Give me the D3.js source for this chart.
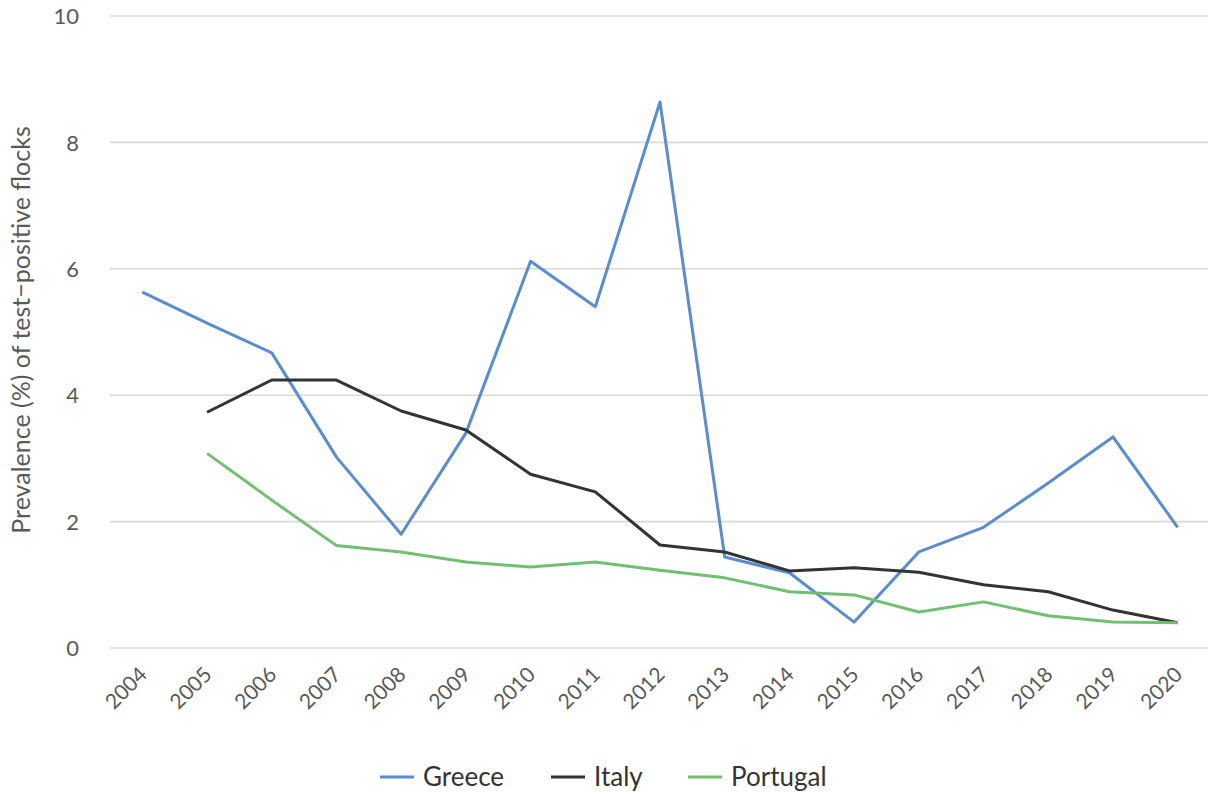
<!DOCTYPE html>
<html>
<head>
<meta charset="utf-8">
<script src="https://cdn.jsdelivr.net/npm/d3@7"></script>
<style>
  html, body { margin: 0; padding: 0; background: #fff; }
  svg { display: block; font-family: Lato, "Open Sans", sans-serif; }
</style>
</head>
<body>
<svg id="chart" width="1208" height="792"></svg>
<script>
const years = ["2004","2005","2006","2007","2008","2009","2010","2011","2012","2013","2014","2015","2016","2017","2018","2019","2020"];
const greece =   [5.63, 5.14, 4.67, 3.02, 1.80, 3.40, 6.12, 5.40, 8.64, 1.44, 1.19, 0.41, 1.52, 1.91, 2.61, 3.34, 1.91];
const italy =    [null, 3.73, 4.24, 4.24, 3.75, 3.45, 2.75, 2.47, 1.63, 1.52, 1.22, 1.27, 1.20, 1.00, 0.89, 0.60, 0.40];
const portugal = [null, 3.08, 2.34, 1.62, 1.52, 1.36, 1.28, 1.36, 1.23, 1.11, 0.89, 0.84, 0.57, 0.73, 0.51, 0.41, 0.40];
const yTicks = [0, 2, 4, 6, 8, 10];
const seriesNames = ["Greece", "Italy", "Portugal"];
const seriesColors = ["#5b8ccb", "#333333", "#72bf72"];
const yTitle = "Prevalence (%) of test\u2212positive flocks";

const series = [greece, italy, portugal];
const svg = d3.select("#chart");

const x = d3.scaleBand().domain(years).range([110, 1210]).padding(0);
const y = d3.scaleLinear().domain([0, 10]).range([648, 16]);

// gridlines
svg.append("g").selectAll("line").data(yTicks).join("line")
  .attr("x1", 110).attr("x2", 1208)
  .attr("y1", d => y(d)).attr("y2", d => y(d))
  .attr("stroke", "#dcd8d6").attr("stroke-width", 1.6);

// y axis labels
const yAxis = d3.axisLeft(y).tickValues(yTicks).tickSize(0).tickPadding(0);
const gy = svg.append("g").attr("transform", "translate(79,0)").call(yAxis);
gy.select(".domain").remove();
gy.selectAll("text").attr("font-size", 22).attr("fill", "#595959")
  .attr("font-family", "Lato, sans-serif").attr("dy", "0.35em");

// x axis labels
const xAxis = d3.axisBottom(x).tickSize(0).tickPadding(0);
const gx = svg.append("g").attr("transform", "translate(0,648)").call(xAxis);
gx.select(".domain").remove();
gx.selectAll("text")
  .attr("font-size", 21).attr("fill", "#595959").attr("font-family", "Lato, sans-serif")
  .attr("text-anchor", "end")
  .attr("dy", null).attr("y", 0)
  .attr("transform", "translate(6,28) rotate(-45)");

// y title
svg.append("text")
  .attr("transform", "translate(30,330) rotate(-90)")
  .attr("text-anchor", "middle")
  .attr("font-size", 25).attr("fill", "#595959")
  .text(yTitle);

// lines
const line = d3.line()
  .defined(d => d.v !== null)
  .x(d => x(d.year) + x.bandwidth() / 2)
  .y(d => y(d.v));

series.forEach((vals, i) => {
  const data = years.map((yr, j) => ({ year: yr, v: vals[j] }));
  svg.append("path").datum(data)
    .attr("fill", "none")
    .attr("stroke", seriesColors[i])
    .attr("stroke-width", 3)
    .attr("stroke-linejoin", "round")
    .attr("d", line);
});

// legend
const legendX = [380, 551, 688];
const lg = svg.append("g");
seriesNames.forEach((name, i) => {
  const g = lg.append("g").attr("transform", `translate(${legendX[i]},777)`);
  g.append("line").attr("x1", 0).attr("x2", 34).attr("y1", 0).attr("y2", 0)
    .attr("stroke", seriesColors[i]).attr("stroke-width", 3);
  g.append("text").attr("x", 43).attr("y", 0).attr("dy", "0.35em")
    .attr("font-size", 26).attr("fill", "#333")
    .text(name);
});
</script>
</body>
</html>
